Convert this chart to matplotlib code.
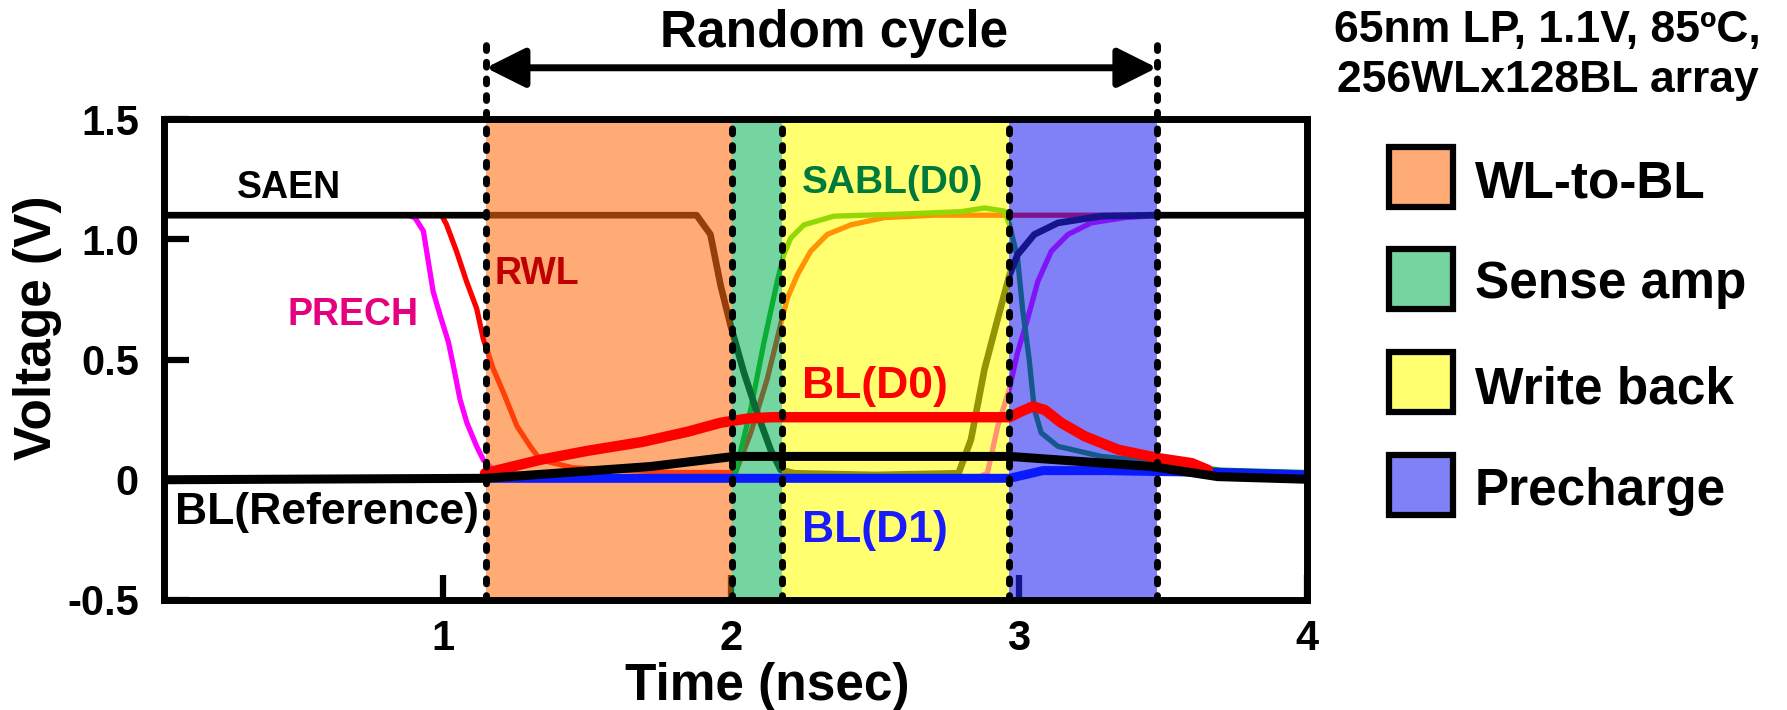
import matplotlib
matplotlib.use("Agg")
import matplotlib.pyplot as plt
from matplotlib.patches import Rectangle
from matplotlib.colors import to_rgba

plt.rcParams['font.family'] = ['Liberation Sans', 'DejaVu Sans']
plt.rcParams['font.weight'] = 'bold'
plt.rcParams['axes.labelweight'] = 'bold'

# phase boundaries (nsec) and phase names / colours
phase_edges = [1.148, 2.004, 2.177, 2.966, 3.479]
phase_names = ["WL-to-BL", "Sense amp", "Write back", "Precharge"]
phase_colors = ["#FF6E12", "#12B85C", "#FFFF08", "#2424F2"]
shade_alpha = 0.58

# control signals (drawn under the phase shading)
t_saen = [0.03, 1.88, 1.928, 1.963, 1.998, 2.044, 2.09, 2.137, 2.172, 2.22, 2.5, 2.79,
          2.833, 2.88, 2.926, 2.967, 2.995, 3.053, 3.135, 3.286, 3.46, 4.0]
v_saen = [1.1, 1.1, 1.02, 0.81, 0.642, 0.447, 0.279, 0.125, 0.041, 0.027, 0.02, 0.027,
          0.167, 0.46, 0.67, 0.852, 0.936, 1.02, 1.068, 1.096, 1.1, 1.1]

t_prech = [0.88, 0.902, 0.931, 0.965, 0.989, 1.018, 1.035, 1.058, 1.082, 1.116, 1.139,
           1.174, 1.21, 1.5, 2.86, 2.89, 2.926, 2.967, 2.995, 3.03, 3.065, 3.112, 3.17,
           3.25, 3.367, 3.5, 4.0]
v_prech = [1.1, 1.089, 1.034, 0.782, 0.684, 0.572, 0.475, 0.335, 0.237, 0.139, 0.083,
           0.041, 0.027, 0.012, 0.012, 0.027, 0.223, 0.38, 0.53, 0.67, 0.824, 0.95, 1.02,
           1.068, 1.09, 1.1, 1.1]

t_rwl = [0.97, 0.994, 1.011, 1.046, 1.081, 1.116, 1.139, 1.174, 1.209, 1.256, 1.302, 1.337,
         1.45, 1.8, 2.015, 2.068, 2.125, 2.177, 2.195, 2.23, 2.276, 2.334, 2.416, 2.532,
         2.706, 4.0]
v_rwl = [1.1, 1.1, 1.062, 0.95, 0.824, 0.712, 0.586, 0.46, 0.363, 0.223, 0.139, 0.083,
         0.05, 0.03, 0.03, 0.195, 0.418, 0.67, 0.754, 0.852, 0.95, 1.02, 1.06, 1.09,
         1.1, 1.1]

t_sabl = [2.015, 2.068, 2.114, 2.16, 2.183, 2.207, 2.253, 2.357, 2.6, 2.8, 2.88, 2.95,
          2.967, 2.995, 3.012, 3.035, 3.053, 3.077, 3.135, 3.286, 3.46, 3.7, 4.0]
v_sabl = [0.03, 0.293, 0.572, 0.824, 0.936, 1.005, 1.06, 1.096, 1.105, 1.115, 1.13, 1.117,
          1.06, 0.92, 0.712, 0.502, 0.293, 0.195, 0.139, 0.097, 0.076, 0.04, 0.03]

# bit lines (drawn on top)
t_bl_d0 = [1.145, 1.337, 1.5, 1.69, 1.85, 1.963, 2.06, 2.14, 2.967, 3.0, 3.048, 3.09,
           3.146, 3.228, 3.344, 3.483, 3.6, 3.656]
v_bl_d0 = [0.027, 0.083, 0.12, 0.157, 0.2, 0.237, 0.255, 0.26, 0.26, 0.28, 0.305, 0.29,
           0.237, 0.181, 0.125, 0.09, 0.069, 0.041]

t_bl_d1 = [1.15, 2.967, 3.083, 3.3, 3.7, 4.0]
v_bl_d1 = [0.006, 0.006, 0.038, 0.038, 0.03, 0.02]

t_bl_ref = [0.03, 1.145, 1.72, 2.01, 2.967, 3.46, 3.69, 4.0]
v_bl_ref = [0.0, 0.006, 0.055, 0.097, 0.097, 0.055, 0.013, 0.002]

x_ticks = [1, 2, 3, 4]
y_ticks = [-0.5, 0, 0.5, 1.0, 1.5]
y_ticklabels = ["-0.5", "0", "0.5", "1.0", "1.5"]

fig = plt.figure(figsize=(17.87, 7.10), dpi=100)
ax = fig.add_axes([0.09177, 0.15493, 0.6396, 0.67746])

# thin signals under the shading (SAEN last so it sits on top at 1.1 V)
ax.plot(t_prech, v_prech, color="#FF00FF", lw=3.8, zorder=2)
ax.plot(t_rwl, v_rwl, color="#FF0000", lw=3.8, zorder=2)
ax.plot(t_sabl, v_sabl, color="#00A000", lw=3.8, zorder=2)
ax.plot(t_saen, v_saen, color="black", lw=4.8, zorder=2.5)

# phase shading
for i in range(len(phase_names)):
    ax.axvspan(phase_edges[i], phase_edges[i + 1], color=phase_colors[i],
               alpha=shade_alpha, lw=0, zorder=3)

# bit lines
ax.plot(t_bl_d1, v_bl_d1, color="#0A1AFF", lw=6.5, zorder=5, solid_capstyle="round")
ax.plot(t_bl_d0, v_bl_d0, color="#FF0000", lw=7.5, zorder=6, solid_capstyle="round")
ax.plot(t_bl_ref, v_bl_ref, color="black", lw=6.5, zorder=7, solid_capstyle="round")

# dashed phase boundaries
for i, x in enumerate(phase_edges):
    top = 1.818 if i in (0, len(phase_edges) - 1) else 1.5
    ax.plot([x, x], [-0.5, top], color="black", lw=5, dashes=(0.7, 1.7),
            dash_capstyle="round", zorder=8, clip_on=False)

# random cycle arrow
ax.annotate("", xy=(phase_edges[0], 1.713), xytext=(phase_edges[-1], 1.713),
            arrowprops=dict(arrowstyle="<|-|>,head_length=0.6,head_width=0.3",
                            lw=5, color="black", mutation_scale=40,
                            shrinkA=0, shrinkB=0),
            annotation_clip=False, zorder=9)
ax.text(2.356, 1.80, "Random cycle", fontsize=37, ha="center", va="baseline",
        clip_on=False)

# signal labels
ax.text(0.463, 1.172, "SAEN", fontsize=27, ha="center", va="baseline", zorder=10)
ax.text(0.687, 0.644, "PRECH", fontsize=27, color="#E4007F", ha="center",
        va="baseline", zorder=10)
ax.text(1.325, 0.816, "RWL", fontsize=27, color="#C00000", ha="center",
        va="baseline", zorder=10)
ax.text(2.562, 1.193, "SABL(D0)", fontsize=28, color="#007A3C", ha="center",
        va="baseline", zorder=10)
ax.text(2.499, 0.342, "BL(D0)", fontsize=32, color="#FF0000", ha="center",
        va="baseline", zorder=10)
ax.text(2.499, -0.258, "BL(D1)", fontsize=32, color="#1A1AFF", ha="center",
        va="baseline", zorder=10)
ax.text(0.597, -0.182, "BL(Reference)", fontsize=32, ha="center", va="baseline",
        zorder=10)

ax.set_xlim(0.03, 4.0)
ax.set_ylim(-0.5, 1.5)
ax.set_xticks(x_ticks)
ax.set_xticklabels([str(x) for x in x_ticks])
ax.set_yticks(y_ticks)
ax.set_yticklabels(y_ticklabels)
ax.tick_params(axis="both", direction="in", length=18, width=4.5, labelsize=30)
ax.tick_params(axis="x", pad=14)
ax.tick_params(axis="y", pad=18)
for s in ax.spines.values():
    s.set_linewidth(5)
    s.set_zorder(11)

ax.set_xlabel("Time (nsec)", fontsize=37, fontweight="bold")
ax.xaxis.set_label_coords(0.528, -0.128)
fig.text(38 / 1787, 1 - 327.5 / 710, "Voltage (V)", fontsize=37, rotation=90,
         ha="center", va="center")

# conditions text
fig.text(0.866, 1 - 42 / 710, "65nm LP, 1.1V, 85ºC,", fontsize=32, ha="center",
         va="baseline")
fig.text(0.866, 1 - 91.7 / 710, "256WLx128BL array", fontsize=32, ha="center",
         va="baseline")

# legend boxes
box_bottoms = [1 - 207 / 710, 1 - 309 / 710, 1 - 412 / 710, 1 - 515 / 710]
text_baselines = [1 - 197 / 710, 1 - 298 / 710, 1 - 403 / 710, 1 - 505 / 710]
for i in range(len(phase_names)):
    fig.patches.append(Rectangle((1389 / 1787, box_bottoms[i]), 64 / 1787, 60 / 710,
                                 transform=fig.transFigure,
                                 facecolor=to_rgba(phase_colors[i], shade_alpha),
                                 edgecolor="black", lw=4.5))
    fig.text(1475 / 1787, text_baselines[i], phase_names[i], fontsize=37,
             ha="left", va="baseline")

fig.savefig("out.png", dpi=100)
